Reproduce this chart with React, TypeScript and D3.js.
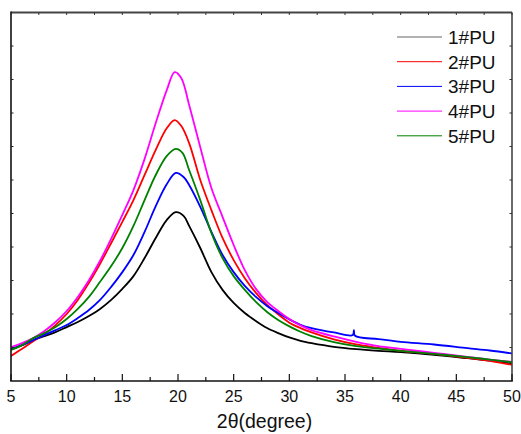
import React from "react";
import * as d3 from "d3";

// 2θ positions (degree) at which each pattern was read
const theta1 = [5,6,7,8,9,10,11,12,13,14,15,16,17,18,19,19.8,20.5,21,22,23,24,25,26,27,28,29,30,31,32,34,36,38,40,43,46,48,50];
const pu1 = [94,107,122,134,146,161,176,194,215,242,275,313,367,427,481,504,493,463,397,325,272,233,203,179,158,143,130,120,113,102,95,90,86,78,68,61,53];

const theta2 = [5,6,7,8,9,10,11,12,13,14,15,16,17,18,19,19.7,20.3,21,22,23,24,25,26,27,28,29,30,31,32,34,36,38,40,43,46,48,50];
const pu2 = [75,96,119,140,167,200,242,293,350,412,475,540,615,690,755,779,761,710,600,510,427,361,307,263,227,199,174,158,145,124,109,99,90,81,69,60,48];

const theta3 = [5,6,7,8,9,10,11,12,13,14,15,16,17,18,19,19.8,20.5,21,22,23,24,25,26,27,28,29,30,31,32,34,35.7,35.8,35.9,38,40,43,46,48,50];
const pu3 = [96,107,122,137,152,167,188,212,242,281,325,376,445,522,588,621,609,585,520,445,376,325,284,251,224,203,184,168,158,145,137,152,135,125,117,109,98,91,82];

const theta4 = [5,6,7,8,9,10,11,12,13,14,15,16,17,18,19,19.7,20.3,21,22,23,24,25,26,27,28,29,30,31,32,34,36,38,40,43,46,48,50];
const pu4 = [101,113,128,149,176,209,251,301,359,425,496,570,663,770,869,922,904,824,698,576,490,406,331,275,236,209,185,166,152,133,117,104,96,84,72,64,57];

const theta5 = [5,6,7,8,9,10,11,12,13,14,15,16,17,18,19,19.8,20.4,21,22,23,24,25,26,27,28,29,30,31,32,34,36,38,40,43,46,48,50];
const pu5 = [93,107,128,143,161,185,215,251,296,343,397,463,540,615,672,693,681,630,540,442,367,313,272,236,206,182,163,147,134,116,104,97,90,81,71,64,56];

const seriesNames = ["1#PU", "2#PU", "3#PU", "4#PU", "5#PU"];
const seriesColors = ["#000000", "#ff0000", "#0000ff", "#ff00ff", "#008000"];
const seriesX = [theta1, theta2, theta3, theta4, theta5];
const seriesY = [pu1, pu2, pu3, pu4, pu5];

const xMajorTicks = [5, 10, 15, 20, 25, 30, 35, 40, 45, 50];
const xMinorTicks = [7.5, 12.5, 17.5, 22.5, 27.5, 32.5, 37.5, 42.5, 47.5];
const yTicks = [100, 200, 300, 400, 500, 600, 700, 800, 900, 1000];

const W = 521, H = 434;
const L = 11, R = 512, T = 12.5, B = 381;
const FONT = "Arial, 'Liberation Sans', Helvetica, sans-serif";

export default function App() {
  const x = d3.scaleLinear().domain([5, 50]).range([L, R]);
  const y = d3.scaleLinear().domain([0, 1100]).range([B, T]);
  const line = d3
    .line<[number, number]>()
    .x((d) => x(d[0]))
    .y((d) => y(d[1]))
    .curve(d3.curveCatmullRom.alpha(0.5));

  const allX = [...xMajorTicks, ...xMinorTicks];

  return (
    <svg width={W} height={H} style={{ position: "absolute", left: 0, top: 0, background: "#fff" }}>
      <defs>
        <clipPath id="plot">
          <rect x={L} y={T} width={R - L} height={B - T} />
        </clipPath>
      </defs>
      <g clipPath="url(#plot)">
        {seriesX.map((xs, i) => (
          <path
            key={i}
            d={line(xs.map((t, j) => [t, seriesY[i][j]] as [number, number])) || ""}
            fill="none"
            stroke={seriesColors[i]}
            strokeWidth={1.8}
            strokeLinejoin="round"
          />
        ))}
      </g>
      {/* frame */}
      <line x1={L} x2={R} y1={T} y2={T} stroke="#444" strokeWidth={2} />
      <line x1={R} x2={R} y1={T} y2={B} stroke="#444" strokeWidth={1.6} />
      <line x1={L} x2={L} y1={T - 1} y2={B} stroke="#111" strokeWidth={1.6} />
      <line x1={L - 0.8} x2={R + 0.8} y1={B} y2={B} stroke="#111" strokeWidth={1.6} />
      {/* bottom ticks */}
      {xMajorTicks.map((t) => (
        <line key={"bM" + t} x1={x(t)} x2={x(t)} y1={B} y2={B - 7} stroke="#111" strokeWidth={1.2} />
      ))}
      {xMinorTicks.map((t) => (
        <line key={"bm" + t} x1={x(t)} x2={x(t)} y1={B} y2={B - 4} stroke="#111" strokeWidth={1.2} />
      ))}
      {/* top ticks */}
      {allX.map((t) => (
        <line key={"t" + t} x1={x(t)} x2={x(t)} y1={T} y2={T + 2.5} stroke="#333" strokeWidth={1} />
      ))}
      {/* left / right ticks */}
      {yTicks.map((v) => (
        <g key={"y" + v}>
          <line x1={L} x2={L + 2.5} y1={y(v)} y2={y(v)} stroke="#222" strokeWidth={1} />
          <line x1={R} x2={R - 2.5} y1={y(v)} y2={y(v)} stroke="#333" strokeWidth={1} />
        </g>
      ))}
      {/* tick labels */}
      {xMajorTicks.map((t) => (
        <text key={"l" + t} x={x(t)} y={402} textAnchor="middle" fontFamily={FONT} fontSize={16} fill="#111">
          {t}
        </text>
      ))}
      <text x={264.5} y={428} textAnchor="middle" fontFamily={FONT} fontSize={19.5} fill="#111">
        2θ(degree)
      </text>
      {/* legend */}
      {seriesNames.map((n, i) => {
        const cy = 37 + i * 24.7;
        return (
          <g key={n}>
            <line x1={397} x2={442} y1={cy} y2={cy} stroke={seriesColors[i]} strokeWidth={1} opacity={i === 0 ? 0.6 : 1} />
            <text x={448} y={cy + 6.8} fontFamily={FONT} fontSize={19} fill="#111">
              {n}
            </text>
          </g>
        );
      })}
    </svg>
  );
}
